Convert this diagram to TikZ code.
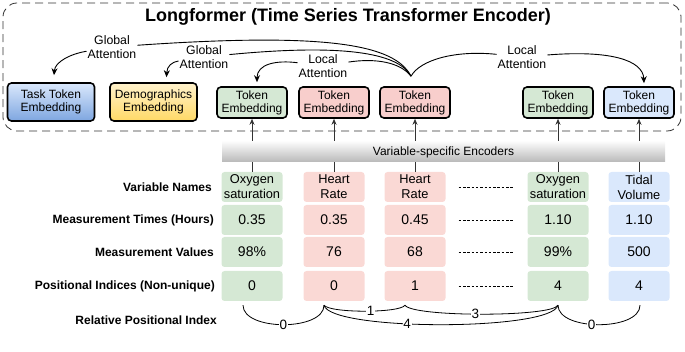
\documentclass[tikz,border=0pt]{standalone}
\usepackage{fontspec}
\setmainfont{Liberation Sans}
\usetikzlibrary{arrows.meta,positioning,calc}
\definecolor{figgreen}{HTML}{D5E8D4}
\definecolor{figred}{HTML}{F8CECC}
\definecolor{figpink}{HTML}{FAD9D5}
\definecolor{figblue}{HTML}{DAE8FC}
\definecolor{figbluedk}{HTML}{7EA6E0}
\definecolor{figyellow}{HTML}{FFF2CC}
\definecolor{figgold}{HTML}{FFD966}
\definecolor{figgrey}{HTML}{333333}

\begin{document}
\begin{tikzpicture}[x=1pt,y=1pt,
  groupbox/.style={draw=black!80, dash pattern=on 8pt off 5pt, line width=0.8pt,
    rounded corners=14pt, minimum width=678pt, minimum height=128pt, inner sep=0pt},
  tokbox/.style={draw=black, line width=1.6pt, rounded corners=4pt, minimum width=70pt,
    minimum height=31pt, inner sep=0pt, align=center,
    font=\fontsize{12}{13}\selectfont},
  bigbox/.style={tokbox, minimum width=87pt, minimum height=38pt},
  cell/.style={rounded corners=3pt, minimum width=61pt, minimum height=30pt,
    inner sep=0pt, align=center, font=\fontsize{12.8}{15}\selectfont},
  valcell/.style={cell, font=\fontsize{14}{15}\selectfont},
  rowlbl/.style={anchor=east, inner sep=0pt, font=\fontsize{12}{14}\selectfont\bfseries},
  attlbl/.style={align=center, inner sep=1pt, font=\fontsize{12.3}{14}\selectfont},
  attline/.style={line width=0.9pt},
  attn/.style={attline, -{Stealth[length=7pt,width=6pt]}},
  upar/.style={-{Stealth[length=6pt,width=5pt]}, line width=0.9pt, color=figgrey},
  dotline/.style={dash pattern=on 2.5pt off 1.8pt, line width=0.7pt,
    shorten <=13pt, shorten >=13pt},
  relarc/.style={line width=0.8pt},
  relnum/.style={fill=white, inner sep=0.6pt, font=\fontsize{13.5}{13.5}\selectfont}]
\useasboundingbox (0,0) rectangle (685,-352);

% encoder group
\node[groupbox] (longf) at (342,-67) {};
\node[font=\fontsize{18}{20}\selectfont\bfseries] (title) at (348,-17)
  {Longformer (Time Series Transformer Encoder)};

\node[bigbox, top color=figblue, bottom color=figbluedk] (task) at (51,-102)
  {Task Token\\Embedding};
\node[bigbox, top color=figyellow, bottom color=figgold] (demo) at (153.5,-102)
  {Demographics\\Embedding};
\node[tokbox, fill=figgreen] (tok1) at (252,-102.5) {Token\\Embedding};
\node[tokbox, fill=figred] (tok2) at (334,-102.5) {Token\\Embedding};
\node[tokbox, fill=figred] (tok3) at (415,-102.5) {Token\\Embedding};
\node[tokbox, fill=figgreen] (tok4) at (558,-102.5) {Token\\Embedding};
\node[tokbox, fill=figblue] (tok5) at (639,-102.5) {Token\\Embedding};

% attention
\coordinate (hub) at ($(tok3.north)+(-4,10)$);
\node[attlbl] (glob1) at (112,-47) {Global\\Attention};
\node[attlbl] (glob2) at (204,-57) {Global\\Attention};
\node[attlbl] (loc1) at (323,-66) {Local\\Attention};
\node[attlbl] (loc2) at (522,-57) {Local\\Attention};

\draw[attline] (hub) .. controls (395,-45) and (330,-32) .. (glob1);
\draw[attn] (glob1) .. controls (70,-54) and (55,-62) .. ($(task.north)+(3,7)$);
\draw[attline] (hub) .. controls (398,-52) and (340,-44) .. (glob2);
\draw[attn] (glob2) .. controls (172,-62) and (167,-66) .. ($(demo.north)+(13,5)$);
\draw[attline] (hub) .. controls (400,-62) and (375,-58) .. (loc1);
\draw[attn] (loc1) .. controls (276,-60) and (257,-64) .. ($(tok1.north)+(5,4)$);
\draw[attline] (hub) .. controls (420,-60) and (455,-50) .. (loc2);
\draw[attn] (loc2) .. controls (610,-50) and (643,-60) .. ($(tok5.north)+(5,3)$);

% input table
\node[rowlbl] (lblname) at (212,-187) {Variable Names};
\node[rowlbl] (lbltime) at (214,-220) {Measurement Times (Hours)};
\node[rowlbl] (lblval) at (214,-252) {Measurement Values};
\node[rowlbl] (lblpos) at (215,-286) {Positional Indices (Non-unique)};
\node[rowlbl] (lblrel) at (217,-320) {Relative Positional Index};

\node[cell, fill=figgreen] (v1) at (252,-187) {Oxygen\\saturation};
\node[cell, fill=figpink] (v2) at (334,-187) {Heart\\Rate};
\node[cell, fill=figpink] (v3) at (415,-187) {Heart\\Rate};
\node[cell, fill=figgreen] (v4) at (558,-187) {Oxygen\\saturation};
\node[cell, fill=figblue] (v5) at (639,-187) {Tidal\\Volume};

\node[valcell, fill=figgreen] (t1) at (252,-220) {0.35};
\node[valcell, fill=figpink] (t2) at (334,-220) {0.35};
\node[valcell, fill=figpink] (t3) at (415,-220) {0.45};
\node[valcell, fill=figgreen] (t4) at (558,-220) {1.10};
\node[valcell, fill=figblue] (t5) at (639,-220) {1.10};

\node[valcell, fill=figgreen] (m1) at (252,-252) {98\%};
\node[valcell, fill=figpink] (m2) at (334,-252) {76};
\node[valcell, fill=figpink] (m3) at (415,-252) {68};
\node[valcell, fill=figgreen] (m4) at (558,-252) {99\%};
\node[valcell, fill=figblue] (m5) at (639,-252) {500};

\node[valcell, fill=figgreen] (p1) at (252,-286) {0};
\node[valcell, fill=figpink] (p2) at (334,-286) {0};
\node[valcell, fill=figpink] (p3) at (415,-286) {1};
\node[valcell, fill=figgreen] (p4) at (558,-286) {4};
\node[valcell, fill=figblue] (p5) at (639,-286) {4};

\foreach \r in {v,t,m,p}
  \draw[dotline] (\r3) -- (\r4);

\foreach \i in {1,...,5}
  \draw[upar] (v\i.north) -- (tok\i.south);

\node[minimum width=443pt, minimum height=20pt, inner sep=0pt,
  top color=gray!4, bottom color=gray!55, font=\fontsize{12}{14}\selectfont]
  (enc) at (443.5,-152) {Variable-specific Encoders};

% relative positions
\coordinate (r1) at ($(p1.south)+(-9,-4)$);
\coordinate (r2) at ($(p2.south)+(-10,-4)$);
\coordinate (r3) at ($(p3.south)+(-10,-4)$);
\coordinate (r4) at ($(p4.south)+(0,-4)$);
\coordinate (r5) at ($(p5.south)+(1,-4)$);
\draw[relarc] (r1) .. controls ($(r1)+(0,-26)$) and ($(r2)+(0,-26)$) .. node[relnum] {0} (r2);
\draw[relarc] (r2) .. controls ($(r2)+(6,-8)$) and ($(r3)+(-5,-8)$) .. node[pos=0.55, relnum] {1} (r3);
\draw[relarc] (r2) .. controls ($(r2)+(6,-26)$) and ($(r4)+(-6,-26)$) .. node[pos=0.4, relnum] {4} (r4);
\draw[relarc] (r3) .. controls ($(r3)+(7,-12)$) and ($(r4)+(-6,-12)$) .. node[pos=0.47, relnum] {3} (r4);
\draw[relarc] (r4) .. controls ($(r4)+(0,-26)$) and ($(r5)+(0,-26)$) .. node[pos=0.44, relnum] {0} (r5);
\end{tikzpicture}
\end{document}
